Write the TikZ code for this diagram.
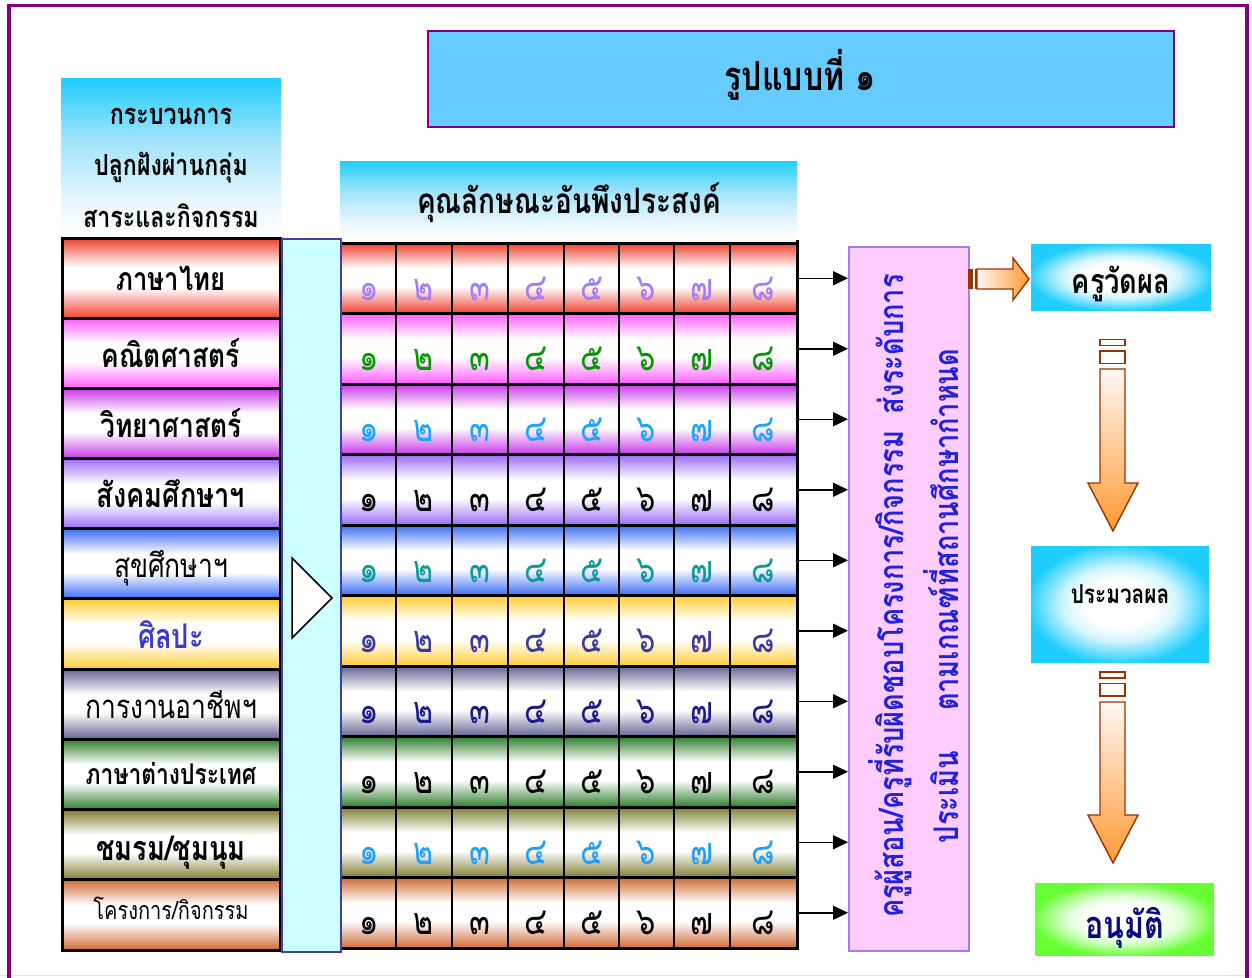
\documentclass[tikz,border=0pt]{standalone}
\usepackage{fontspec}
\setmainfont[Script=Thai,FakeStretch=0.8]{Loma}
\usetikzlibrary{arrows.meta}

% palette
\definecolor{framepurple}{HTML}{800080}
\definecolor{titlefill}{HTML}{66CCFF}
\definecolor{skycyan}{HTML}{1ECDFB}
\definecolor{skymid}{HTML}{9FE3FB}
\definecolor{skylow}{HTML}{EAF7FE}
\definecolor{stripfill}{HTML}{CCFFFF}
\definecolor{stripedge}{HTML}{3F3FA0}
\definecolor{pinkfill}{HTML}{FFCCFF}
\definecolor{pinkedge}{HTML}{A57CF8}
\definecolor{vblue}{HTML}{2222DD}
\definecolor{arrowbrown}{HTML}{993300}
\definecolor{arroworange}{HTML}{FF9933}
\definecolor{arrowpale}{HTML}{FFF8F3}
\definecolor{okgreen}{HTML}{66FF33}
\definecolor{navytext}{HTML}{0A0A80}
\definecolor{artsblue}{HTML}{3B3BC8}
% row bands
\definecolor{bandA}{HTML}{F0402F}
\definecolor{bandB}{HTML}{FF5CFF}
\definecolor{bandC}{HTML}{C837E8}
\definecolor{bandD}{HTML}{9A6AF5}
\definecolor{bandE}{HTML}{3A6BF5}
\definecolor{bandF}{HTML}{FFCC33}
\definecolor{bandG}{HTML}{646494}
\definecolor{bandH}{HTML}{2F7F2F}
\definecolor{bandI}{HTML}{807C30}
\definecolor{bandJ}{HTML}{D06B35}
% digit colours
\definecolor{numA}{HTML}{A57CF8}
\definecolor{numB}{HTML}{009900}
\definecolor{numC}{HTML}{1AA3FF}
\definecolor{numD}{HTML}{000000}
\definecolor{numE}{HTML}{0A9A9A}
\definecolor{numF}{HTML}{3A3AA0}
\definecolor{numG}{HTML}{1A1A8C}
\definecolor{numH}{HTML}{000000}
\definecolor{numI}{HTML}{1E9EFF}
\definecolor{numJ}{HTML}{000000}

\colorlet{bandc}{bandA}
\colorlet{glowc}{skycyan}
% the band 25bp..75bp is what lands on the shaded path
\pgfdeclareverticalshading[bandc]{band}{100bp}{color(0bp)=(bandc); color(25bp)=(bandc); color(44bp)=(white); color(57bp)=(white); color(75bp)=(bandc); color(100bp)=(bandc)}
\pgfdeclareverticalshading{headshade}{100bp}{color(0bp)=(white); color(25bp)=(white); color(36bp)=(skylow); color(56bp)=(skymid); color(75bp)=(skycyan); color(100bp)=(skycyan)}
% pale centre glowing out to the box colour (25bp = box edge)
\pgfdeclareradialshading[glowc]{glow}{\pgfpoint{0bp}{0bp}}{color(0bp)=(white); color(10bp)=(white); color(16bp)=(white!80!glowc); color(21bp)=(white!40!glowc); color(26bp)=(glowc); color(50bp)=(glowc)}

\newcommand\fsz[1]{\fontsize{#1}{#1}\selectfont}

\begin{document}
\begin{tikzpicture}[x=1pt,y=-1pt,
  rowlabel/.style={anchor=base,inner sep=0pt,text=black},
  digit/.style={anchor=base,inner sep=0pt,font=\fsz{38}},
  conn/.style={line width=1.5pt,-{Triangle[length=15pt,width=14pt]}},
  blockarrow/.style={draw=arrowbrown,line width=1.4pt},
  stub/.style={draw=arrowbrown,line width=1.4pt,fill=white}]
\useasboundingbox (0,0) rectangle (1252,977);
\fill[white] (0,0) rectangle (1252,977);

% outer frame (open at the bottom edge of the page)
\draw[gray!22,line width=1pt] (0,975.5) -- (1252,975.5);
\draw[framepurple,line width=3.5pt] (9,1010) -- (9,5.5) -- (1247,5.5) -- (1247,1010);

% title
\node[draw=framepurple,line width=2pt,fill=titlefill,minimum width=746,minimum height=96,anchor=north west,inner sep=0pt] (title) at (427,30) {};
\node[anchor=base,inner sep=0pt,font=\fsz{40}\bfseries] (titletext) at (800,90) {รูปแบบที่ ๑};

% column headers
\shade[shading=headshade] (61,78) rectangle (281,238);
\node[anchor=base,inner sep=0pt,font=\fsz{29}\bfseries] (headA1) at (171,124) {กระบวนการ};
\node[anchor=base,inner sep=0pt,font=\fsz{29}\bfseries] (headA2) at (171,175) {ปลูกฝังผ่านกลุ่ม};
\node[anchor=base,inner sep=0pt,font=\fsz{29}\bfseries] (headA3) at (171,227) {สาระและกิจกรรม};
\shade[shading=headshade] (340,161) rectangle (797,240);
\node[anchor=base,inner sep=0pt,font=\fsz{35}\bfseries] (headB) at (569,213) {คุณลักษณะอันพึงประสงค์};

% evaluation box (drawn first so the row arrows can end on it)
\node[draw=pinkedge,line width=2pt,fill=pinkfill,minimum width=120,minimum height=704,anchor=north west,inner sep=0pt] (eval) at (848,246) {};
\node[rotate=90,align=center,text=vblue,inner sep=0pt,font=\fontsize{34}{55}\selectfont\bfseries] (evaltext) at (914,596)
  {ครูผู้สอน/ครูที่รับผิดชอบโครงการ/กิจกรรม\hspace{16pt}ส่งระดับการ\\ประเมิน\hspace{40pt}ตามเกณฑ์ที่สถานศึกษากำหนด};

% subject rows on the left
\foreach \i/\bc/\yt/\yb in {1/bandA/238/318,2/bandB/318/388.2,3/bandC/388.2/458.4,4/bandD/458.4/528.6,5/bandE/528.6/598.8,
  6/bandF/598.8/669,7/bandG/669/739.2,8/bandH/739.2/809.4,9/bandI/809.4/879.6,10/bandJ/879.6/950}{
  \colorlet{bandc}{\bc}
  \shade[shading=band] (62,\yt) rectangle (280,\yb);
  \draw[black,line width=3pt] (62,\yt) rectangle (280,\yb);
}
\node[rowlabel,font=\fsz{32}\bfseries] (lab1) at (171,290) {ภาษาไทย};
\node[rowlabel,font=\fsz{33}\bfseries] (lab2) at (171,367) {คณิตศาสตร์};
\node[rowlabel,font=\fsz{33}\bfseries] (lab3) at (171,437) {วิทยาศาสตร์};
\node[rowlabel,font=\fsz{34}\bfseries] (lab4) at (171,507) {สังคมศึกษาฯ};
\node[rowlabel,font=\fsz{33}] (lab5) at (171,577) {สุขศึกษาฯ};
\node[rowlabel,font=\fsz{34}\bfseries,text=artsblue] (lab6) at (171,648) {ศิลปะ};
\node[rowlabel,font=\fsz{33}] (lab7) at (171,718) {การงานอาชีพฯ};
\node[rowlabel,font=\fsz{28.5}\bfseries] (lab8) at (171,784) {ภาษาต่างประเทศ};
\node[rowlabel,font=\fsz{34}\bfseries] (lab9) at (171,860) {ชมรม/ชุมนุม};
\node[rowlabel,font=\fsz{25}] (lab10) at (171,919) {โครงการ/กิจกรรม};

% connecting strip with its pointer
\node[draw=stripedge,line width=2pt,fill=stripfill,minimum width=59,minimum height=713,anchor=north west,inner sep=0pt] (strip) at (281,238) {};
\draw[black,fill=white,line width=1.5pt] (292,558) -- (292,638) -- (332,598) -- cycle;

% grid of characteristics 1-8 for every row
\foreach \i/\bc/\nc in {1/bandA/numA,2/bandB/numB,3/bandC/numC,4/bandD/numD,5/bandE/numE,
  6/bandF/numF,7/bandG/numG,8/bandH/numH,9/bandI/numI,10/bandJ/numJ}{
  \pgfmathsetmacro\gt{243+70.5*(\i-1)}
  \pgfmathsetmacro\gb{\gt+70.5}
  \pgfmathsetmacro\gm{\gt+35.25}
  \pgfmathsetmacro\gbase{\gt+57}
  \colorlet{bandc}{\bc}
  \shade[shading=band] (342,\gt) rectangle (797,\gb);
  \foreach \cx in {396,452,508,564,619,674,730}{
    \draw[black,line width=2pt] (\cx,\gt) -- (\cx,\gb);
  }
  \draw[black,line width=3pt] (342,\gt) -- (797,\gt);
  \draw[black,line width=3pt] (342,\gb) -- (797,\gb);
  \foreach \j/\cx/\d in {1/369/๑,2/424/๒,3/480/๓,4/536/๔,5/591.5/๕,6/646.5/๖,7/702/๗,8/763.5/๘}{
    \node[digit,text=\nc] (n\i-\j) at (\cx,\gbase) {\d};
  }
  \coordinate (r\i) at (797,\gm);
  \draw[conn] (r\i) -- (r\i -| eval.west);
}
\draw[black,line width=3pt] (797,240) -- (797,949.5);

% result boxes
\colorlet{glowc}{skycyan}
\shade[shading=glow] (1031,244) rectangle (1211,310);
\node[anchor=base,inner sep=0pt,font=\fsz{34}\bfseries] (measure) at (1121,293) {ครูวัดผล};
\shade[shading=glow] (1031,546) rectangle (1209,662);
\node[anchor=base,inner sep=0pt,font=\fsz{26}\bfseries] (process) at (1120,603) {ประมวลผล};
\colorlet{glowc}{okgreen}
\shade[shading=glow] (1035,883) rectangle (1214,955);
\node[anchor=base,inner sep=0pt,font=\fsz{38}\bfseries,text=navytext] (approve) at (1124.5,938) {อนุมัติ};

% block arrow from the evaluation box to the first result box
\fill[arrowbrown] (968,269) rectangle (973,289);
\draw[arrowbrown,line width=2pt] (976,269) -- (976,289);
\shade[left color=arrowpale,right color=arroworange,blockarrow]
  (977,269) -- (1013,269) -- (1013,258) -- (1029,279) -- (1013,300) -- (1013,289) -- (977,289) -- cycle;

% block arrows down the right column
\draw[stub] (1100,339.5) rectangle (1125,345.5);
\draw[stub] (1100,351) rectangle (1125,363.5);
\shade[top color=arrowpale,bottom color=arroworange,blockarrow]
  (1100,369) -- (1125,369) -- (1125,483) -- (1138,483) -- (1113,531) -- (1088,483) -- (1100,483) -- cycle;
\draw[stub] (1100,672) rectangle (1125,678);
\draw[stub] (1100,683.5) rectangle (1125,696);
\shade[top color=arrowpale,bottom color=arroworange,blockarrow]
  (1100,702) -- (1125,702) -- (1125,815) -- (1138,815) -- (1113,863) -- (1088,815) -- (1100,815) -- cycle;
\end{tikzpicture}
\end{document}
